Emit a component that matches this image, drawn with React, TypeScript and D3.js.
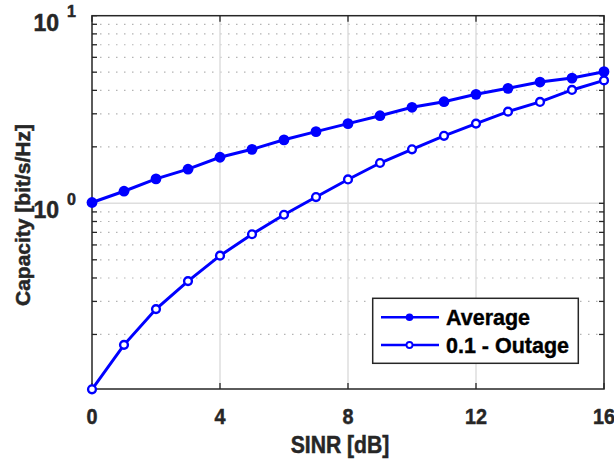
import React from "react";
import * as d3 from "d3";

const sinr = [0, 1, 2, 3, 4, 5, 6, 7, 8, 9, 10, 11, 12, 13, 14, 15, 16];
const average = [1.01, 1.16, 1.35, 1.52, 1.76, 1.94, 2.18, 2.41, 2.66, 2.93, 3.25, 3.48, 3.81, 4.1, 4.43, 4.65, 5.03];
const outage = [0.102, 0.176, 0.273, 0.385, 0.526, 0.684, 0.869, 1.08, 1.34, 1.64, 1.94, 2.29, 2.66, 3.08, 3.47, 4.02, 4.52];
const xTicks = [0, 4, 8, 12, 16];
const yMajor = [1, 10];
const yMinor = [0.2, 0.3, 0.4, 0.5, 0.6, 0.7, 0.8, 0.9, 2, 3, 4, 5, 6, 7, 8, 9];
const seriesNames = ["Average", "0.1 - Outage"];
const xDomain: [number, number] = [0, 16];
const yDomain: [number, number] = [0.1024, 10];

const W = 614, H = 461;
const L = 92, R = 604, T = 15.7, B = 389;
const axisColor = "#262626";
const blue = "#0000ff";
const font = "'Liberation Sans', Arial, sans-serif";

export default function App() {
  const x = d3.scaleLinear().domain(xDomain).range([L, R]);
  const y = d3.scaleLog().domain(yDomain).range([B, T]);
  const line = d3.line<number>().x((_, i) => x(sinr[i])).y((d) => y(d));

  return (
    <svg width={W} height={H} style={{ position: "absolute", left: 0, top: 0, background: "#fff" }}>
      <rect x={0} y={0} width={W} height={H} fill="#fff" />
      {/* minor grid */}
      {yMinor.map((v) => (
        <line key={"mg" + v} x1={L} x2={R} y1={y(v)} y2={y(v)} stroke="#b4b4b4" strokeWidth={1.2} strokeDasharray="1.5 6.5" />
      ))}
      {/* major grid */}
      {yMajor.filter((v) => v < 10).map((v) => (
        <line key={"Mg" + v} x1={L} x2={R} y1={y(v)} y2={y(v)} stroke="#dedede" strokeWidth={1.5} />
      ))}
      {xTicks.filter((v) => v > 0 && v < 16).map((v) => (
        <line key={"xg" + v} x1={x(v)} x2={x(v)} y1={T} y2={B} stroke="#dedede" strokeWidth={1.5} />
      ))}
      {/* ticks */}
      {xTicks.map((v) => (
        <g key={"xt" + v}>
          <line x1={x(v)} x2={x(v)} y1={B} y2={B - 6} stroke={axisColor} strokeWidth={1.3} />
          <line x1={x(v)} x2={x(v)} y1={T} y2={T + 6} stroke={axisColor} strokeWidth={1.3} />
        </g>
      ))}
      {[...yMinor, ...yMajor].map((v) => (
        <g key={"yt" + v}>
          <line x1={L} x2={L + 5} y1={y(v)} y2={y(v)} stroke={axisColor} strokeWidth={1.3} />
          <line x1={R} x2={R - 5} y1={y(v)} y2={y(v)} stroke={axisColor} strokeWidth={1.3} />
        </g>
      ))}
      {/* box */}
      <rect x={L} y={T} width={R - L} height={B - T} fill="none" stroke={axisColor} strokeWidth={1.5} />
      {/* series */}
      <path d={line(average) || ""} fill="none" stroke={blue} strokeWidth={3} />
      <path d={line(outage) || ""} fill="none" stroke={blue} strokeWidth={3} />
      {average.map((v, i) => (
        <circle key={"a" + i} cx={x(sinr[i])} cy={y(v)} r={5.4} fill={blue} />
      ))}
      {outage.map((v, i) => (
        <circle key={"o" + i} cx={x(sinr[i])} cy={y(v)} r={3.9} fill="#fff" stroke={blue} strokeWidth={2.4} />
      ))}
      {/* x tick labels */}
      {xTicks.map((v) => (
        <text key={"xl" + v} x={x(v)} y={424} textAnchor="middle" fontFamily={font} fontWeight="bold" fontSize={22.5}
          fill={axisColor} stroke={axisColor} strokeWidth={0.5}
          transform={`translate(${x(v)},0) scale(0.88,1) translate(${-x(v)},0)`}>
          {v}
        </text>
      ))}
      {/* y tick labels */}
      {yMajor.map((v) => {
        const e = Math.round(Math.log10(v));
        const yy = y(v);
        return (
          <g key={"yl" + v} fontFamily={font} fontWeight="bold" fill={axisColor} stroke={axisColor} strokeWidth={0.5}>
            <text x={59} y={yy + 15} textAnchor="end" fontSize={23}>10</text>
            <text x={67} y={yy + 1.5} textAnchor="start" fontSize={16}>{e}</text>
          </g>
        );
      })}
      {/* axis labels */}
      <text x={340} y={453} textAnchor="middle" fontFamily={font} fontWeight="bold" fontSize={23.5}
        fill={axisColor} stroke={axisColor} strokeWidth={0.5}
        transform="translate(340,0) scale(0.9,1) translate(-340,0)">
        SINR [dB]
      </text>
      <text transform="translate(29.5,215) rotate(-90)" textAnchor="middle" fontFamily={font} fontWeight="bold" fontSize={21}
        fill={axisColor} stroke={axisColor} strokeWidth={0.5}>
        Capacity [bit/s/Hz]
      </text>
      {/* legend */}
      <rect x={372.7} y={298.3} width={205.6} height={65} fill="#fff" stroke={axisColor} strokeWidth={1.5} />
      {seriesNames.map((name, i) => {
        const cy = i === 0 ? 317.3 : 345;
        return (
          <g key={name}>
            <line x1={381} x2={439} y1={cy} y2={cy} stroke={blue} strokeWidth={2.5} />
            {i === 0 ? (
              <circle cx={409.5} cy={cy} r={3.8} fill={blue} />
            ) : (
              <circle cx={409.5} cy={cy} r={3} fill="#fff" stroke={blue} strokeWidth={1.8} />
            )}
            <text x={446} y={cy + 7.6} fontFamily={font} fontWeight="bold" fontSize={21.5} fill="#000" stroke="#000" strokeWidth={0.4}>
              {name}
            </text>
          </g>
        );
      })}
    </svg>
  );
}
